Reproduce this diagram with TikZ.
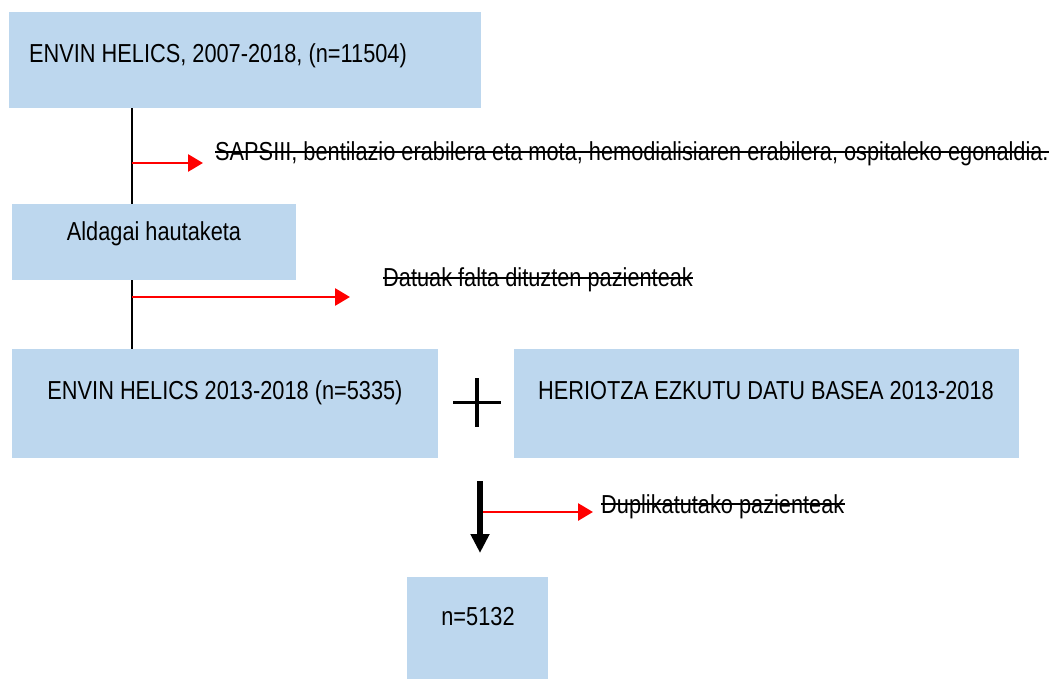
\documentclass[tikz,border=0pt]{standalone}
\usepackage{fontspec}
\setmainfont[FakeStretch=0.837]{Liberation Sans}
\usetikzlibrary{arrows.meta}
\definecolor{boxblue}{RGB}{189,215,238}
\definecolor{arrred}{RGB}{255,0,0}
\begin{document}
\begin{tikzpicture}[x=1pt,y=-1pt,
  box/.style={fill=boxblue, draw=none, inner sep=0pt, anchor=north west},
  txt/.style={inner sep=0pt, font=\fontsize{26}{31}\selectfont},
  strike/.style={line width=1.8pt, black},
  redarrow/.style={draw=arrred, line width=2.8pt, -{Triangle[length=15pt,width=17pt]}},
  blackarrow/.style={draw=black, line width=6pt, -{Triangle[length=19pt,width=18pt]}}]
\useasboundingbox (0,0) rectangle (1054,679);
% spine
\coordinate (spine) at (132,0);
\coordinate (down) at (480,0);
% boxes
\node[box, minimum width=472pt, minimum height=96pt] (b1) at (9,12) {};
\node[box, minimum width=284pt, minimum height=76pt] (b2) at (12,204) {};
\node[box, minimum width=426pt, minimum height=109pt] (b3) at (12,349) {};
\node[box, minimum width=505pt, minimum height=109pt] (b4) at (514,349) {};
\node[box, minimum width=141pt, minimum height=102pt] (b5) at (407,577) {};
% box texts
\node[txt, anchor=base west] (t1) at (29,62.7) {ENVIN HELICS, 2007-2018, (n=11504)};
\node[txt, anchor=base] (t2) at (154,240) {Aldagai hautaketa};
\node[txt, anchor=base] (t3) at (225,399.3) {ENVIN HELICS 2013-2018 (n=5335)};
\node[txt, anchor=base] (t4) at (766,399.3) {HERIOTZA EZKUTU DATU BASEA 2013-2018};
\node[txt, anchor=base] (t5) at (478,625) {n=5132};
% struck labels
\node[txt, anchor=base west] (l1) at (215,161) {SAPSIII, bentilazio erabilera eta mota, hemodialisiaren erabilera, ospitaleko egonaldia.};
\node[txt, anchor=base west] (l2) at (383,286.7) {Datuak falta dituzten pazienteak};
\node[txt, anchor=base west] (l3) at (601,513) {Duplikatutako pazienteak};
\foreach \l in {l1,l2,l3}{
  \draw[strike] ([yshift=9pt]\l.base west) -- ([yshift=9pt]\l.base east);
}
% spine lines
\draw[line width=1.2pt] (b1.south -| spine) -- (b2.north -| spine);
\draw[line width=1.2pt] (b2.south -| spine) -- (b3.north -| spine);
% red arrows
\coordinate (a1) at (132,163);
\coordinate (a2) at (132,297);
\draw[redarrow, shorten >=12pt] (a1) -- (a1 -| l1.west);
\draw[redarrow, shorten >=33pt] (a2) -- (a2 -| l2.west);
% plus sign
\coordinate (plus) at (477,402.5);
\draw[line width=3.5pt] ([xshift=-24pt]plus) -- ([xshift=24pt]plus);
\draw[line width=3.5pt] ([yshift=24.5pt]plus) -- ([yshift=-24.5pt]plus);
% down arrow
\draw[blackarrow, shorten <=23pt, shorten >=24pt] (b3.south -| down) -- (b5.north -| down);
\coordinate (a3) at (483,512);
\draw[redarrow, shorten >=8pt] (a3) -- (a3 -| l3.west);
\end{tikzpicture}
\end{document}
